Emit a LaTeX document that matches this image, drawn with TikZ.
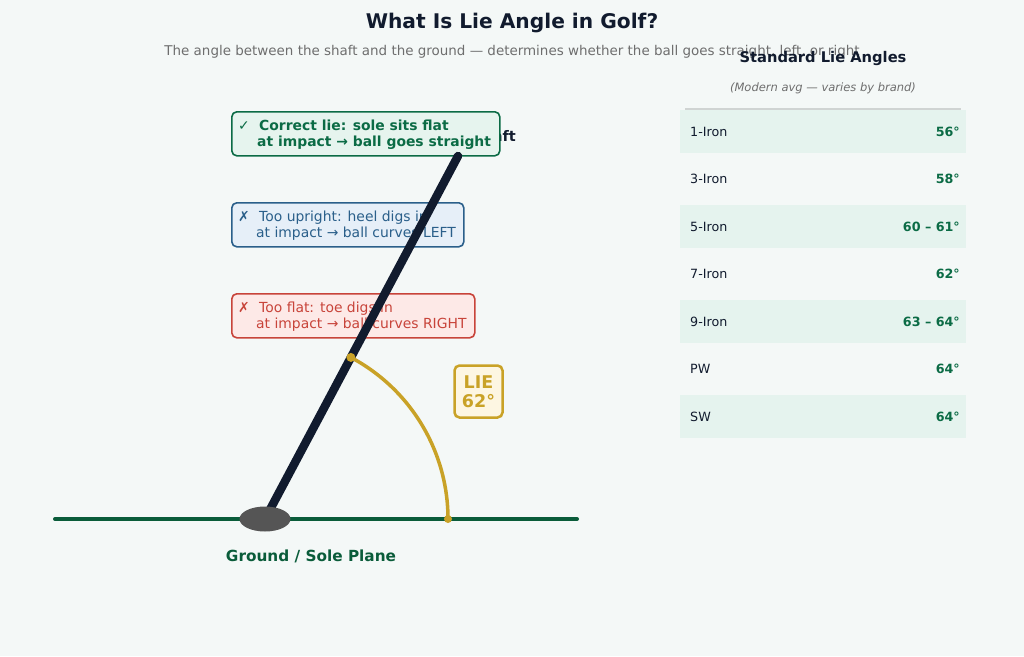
\documentclass[tikz,border=0pt]{standalone}
\usepackage{fontspec}
\usetikzlibrary{calc,shapes.geometric}
\setmainfont{DejaVu Sans}
\definecolor{bg}{HTML}{F4F8F7}
\definecolor{navy}{HTML}{111B2E}
\definecolor{subgray}{HTML}{6E6E6E}
\definecolor{dgreen}{HTML}{0B6B45}
\definecolor{ground}{HTML}{0A5C3A}
\definecolor{gold}{HTML}{C9A227}
\definecolor{cream}{HTML}{FDF6E2}
\definecolor{okfill}{HTML}{E6F4EE}
\definecolor{upblue}{HTML}{2A5F8A}
\definecolor{upfill}{HTML}{E6EFF8}
\definecolor{flatred}{HTML}{C8443A}
\definecolor{flatfill}{HTML}{FDE9E7}
\definecolor{rowfill}{HTML}{E5F3EE}
\definecolor{rule}{HTML}{D0D4D3}
\definecolor{head}{HTML}{555555}
\tikzset{
  msgbox/.style={draw, line width=1.6pt, rounded corners=5pt, anchor=north west, inner sep=0pt},
  msgtext/.style={anchor=west, align=left, inner sep=0pt, font=\fontsize{13.9}{16}\selectfont},
  rowlab/.style={anchor=west, inner sep=0pt, text=navy, font=\fontsize{12.7}{14}\selectfont},
  rowval/.style={anchor=east, inner sep=0pt, text=dgreen, font=\fontsize{12.7}{14}\selectfont\bfseries},
  rowbg/.style={fill=rowfill, draw=none, anchor=north west, minimum width=286, minimum height=43, inner sep=0pt},
}
\begin{document}
\begin{tikzpicture}[x=1pt,y=-1pt]
\fill[bg] (0,0) rectangle (1024,656);
\useasboundingbox (0,0) rectangle (1024,656);
% titles
\node[text=navy, font=\fontsize{20.2}{24}\selectfont\bfseries] (title) at (512,23) {What Is Lie Angle in Golf?};
\node[text=subgray, font=\fontsize{13.45}{16}\selectfont] (subtitle) at (512,52) {The angle between the shaft and the ground — determines whether the ball goes straight, left, or right};
% right table
\node[text=navy, font=\fontsize{14.7}{17}\selectfont\bfseries] (ttitle) at (823,59) {Standard Lie Angles};
\node[text=subgray, font=\fontsize{11.5}{13}\selectfont\itshape] (tsub) at (823,88) {(Modern avg — varies by brand)};
\draw[rule, line width=1.2pt] (685,109) -- (961,109);
\foreach \i/\lab/\val in {0/1-Iron/56°,1/3-Iron/58°,2/5-Iron/60 – 61°,3/7-Iron/62°,4/9-Iron/63 – 64°,5/PW/64°,6/SW/64°}{
  \pgfmathsetmacro{\yy}{131.5+47.5*\i}
  \ifodd\i\else
    \node[rowbg] (row\i) at (680,\yy-21.5) {};
  \fi
  \node[rowlab] (lab\i) at (690,\yy) {\lab};
  \node[rowval] (val\i) at (960,\yy) {\val};
}
% shaft label
\node[text=navy, font=\fontsize{14.5}{17}\selectfont\bfseries] (shaftlab) at (494,136) {Shaft};
% boxes
\node[msgbox, draw=dgreen, fill=okfill, minimum width=268, minimum height=44] (okbox) at (231,111) {};
\node[msgtext, text=dgreen, font=\fontsize{13.9}{16}\selectfont\bfseries] (oktext) at (238,134.5) {\makebox[21pt][l]{✓}Correct lie: sole sits flat\\\hspace{19pt}at impact → ball goes straight};
\node[msgbox, draw=upblue, fill=upfill, minimum width=232, minimum height=44] (upbox) at (231,202) {};
\node[msgtext, text=upblue] (uptext) at (238,225.5) {\makebox[21pt][l]{✗}Too upright: heel digs in\\\hspace{18pt}at impact → ball curves LEFT};
\node[msgbox, draw=flatred, fill=flatfill, minimum width=243, minimum height=44] (flatbox) at (231,293) {};
\node[msgtext, text=flatred] (flattext) at (238,316.5) {\makebox[21pt][l]{✗}Too flat: toe digs in\\\hspace{18pt}at impact → ball curves RIGHT};
% ground
\coordinate (gl) at (55,519);
\coordinate (gr) at (577,519);
\draw[ground, line width=4pt, line cap=round] (gl) -- (gr);
\node[text=ground, font=\fontsize{15.3}{18}\selectfont\bfseries] (groundlab) at (311,556) {Ground / Sole Plane};
% shaft
\coordinate (heel) at (265,519);
\coordinate (shafttop) at (458,156);
\draw[navy, line width=8.5pt, line cap=round] ($(heel)!0.025!(shafttop)$) -- (shafttop);
\node[ellipse, fill=head, minimum width=51, minimum height=25, inner sep=0pt] (clubhead) at (heel) {};
% arc
\coordinate (a0) at (448,519);
\draw[gold, line width=3.5pt] (a0) arc[start angle=0, end angle=-62, radius=183] coordinate (a1);
\fill[gold] (a0) circle (4);
\fill[gold] (a1) circle (4.5);
\node[draw=gold, fill=cream, line width=2.5pt, rounded corners=5pt, minimum width=48, minimum height=52, inner sep=0pt, align=center, text=gold, font=\fontsize{17.5}{19}\selectfont\bfseries] (liebox) at (478.5,391.5) {LIE\\62°};
\end{tikzpicture}
\end{document}
